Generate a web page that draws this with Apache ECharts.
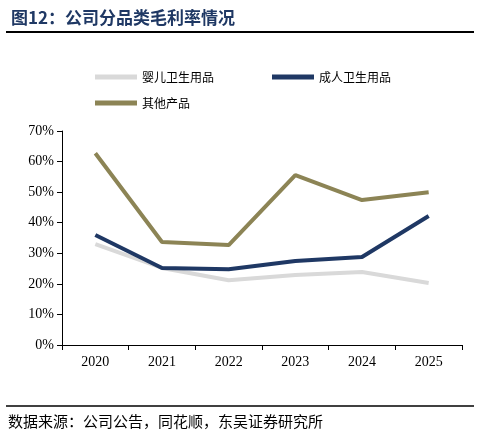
<!DOCTYPE html><html><head><meta charset="utf-8"><script src="https://cdn.jsdelivr.net/npm/echarts@6/dist/echarts.min.js"></script>
<style>body{margin:0;background:#fff}#c{width:480px;height:440px}</style></head><body><div id="c"></div><script>
const years=['2020','2021','2022','2023','2024','2025'];
const baby=[33,25.2,21.2,22.9,23.9,20.3];
const adult=[36,25.2,24.8,27.5,28.8,42.2];
const other=[62.7,33.7,32.7,55.6,47.4,50];
const yTicks=[0,10,20,30,40,50,60,70];
const c=echarts.init(document.getElementById('c'));
const ff='"Noto Sans CJK SC"';
const lg={itemWidth:42,itemHeight:5,icon:'rect',textStyle:{fontFamily:ff,fontSize:12,color:'#000'}};
c.setOption({
 animation:false,
 title:{text:'图12：公司分品类毛利率情况',left:6,top:4,textStyle:{fontFamily:ff,fontSize:17,fontWeight:'bold',color:'#1f3864'}},
 graphic:[
  {type:'line',shape:{x1:6,y1:32,x2:474,y2:32},style:{stroke:'#000',lineWidth:2}},
  {type:'line',shape:{x1:6,y1:406,x2:474,y2:406},style:{stroke:'#000',lineWidth:1.5}},
  {type:'text',left:8,top:414,style:{text:'数据来源：公司公告，同花顺，东吴证券研究所',font:'15px "Noto Sans CJK SC"',fill:'#000'}}
 ],
 legend:[
  Object.assign({left:90,top:66,itemGap:58,data:['婴儿卫生用品','成人卫生用品']},lg),
  Object.assign({left:90,top:92,data:['其他产品']},lg)
 ],
 grid:{left:62,right:18,top:131,bottom:95},
 xAxis:{type:'category',data:years,boundaryGap:true,axisLine:{lineStyle:{color:'#000'}},axisTick:{show:true,lineStyle:{color:'#000'}},
  axisLabel:{fontFamily:'"Liberation Serif"',fontSize:14,color:'#000',margin:10}},
 yAxis:{type:'value',min:0,max:70,interval:10,splitLine:{show:false},axisLine:{show:true,lineStyle:{color:'#000'}},axisTick:{show:true,lineStyle:{color:'#000'}},
  axisLabel:{formatter:v=>yTicks.includes(v)?v+'%':'',fontFamily:'"Liberation Serif"',fontSize:14,color:'#000'}},
 series:[
  {name:'婴儿卫生用品',type:'line',data:baby,symbol:'none',lineStyle:{width:4,color:'#d9d9d9'},itemStyle:{color:'#d9d9d9'}},
  {name:'成人卫生用品',type:'line',data:adult,symbol:'none',lineStyle:{width:4,color:'#1f3864'},itemStyle:{color:'#1f3864'}},
  {name:'其他产品',type:'line',data:other,symbol:'none',lineStyle:{width:4,color:'#8c8455'},itemStyle:{color:'#8c8455'}}
 ]
});
</script></body></html>
